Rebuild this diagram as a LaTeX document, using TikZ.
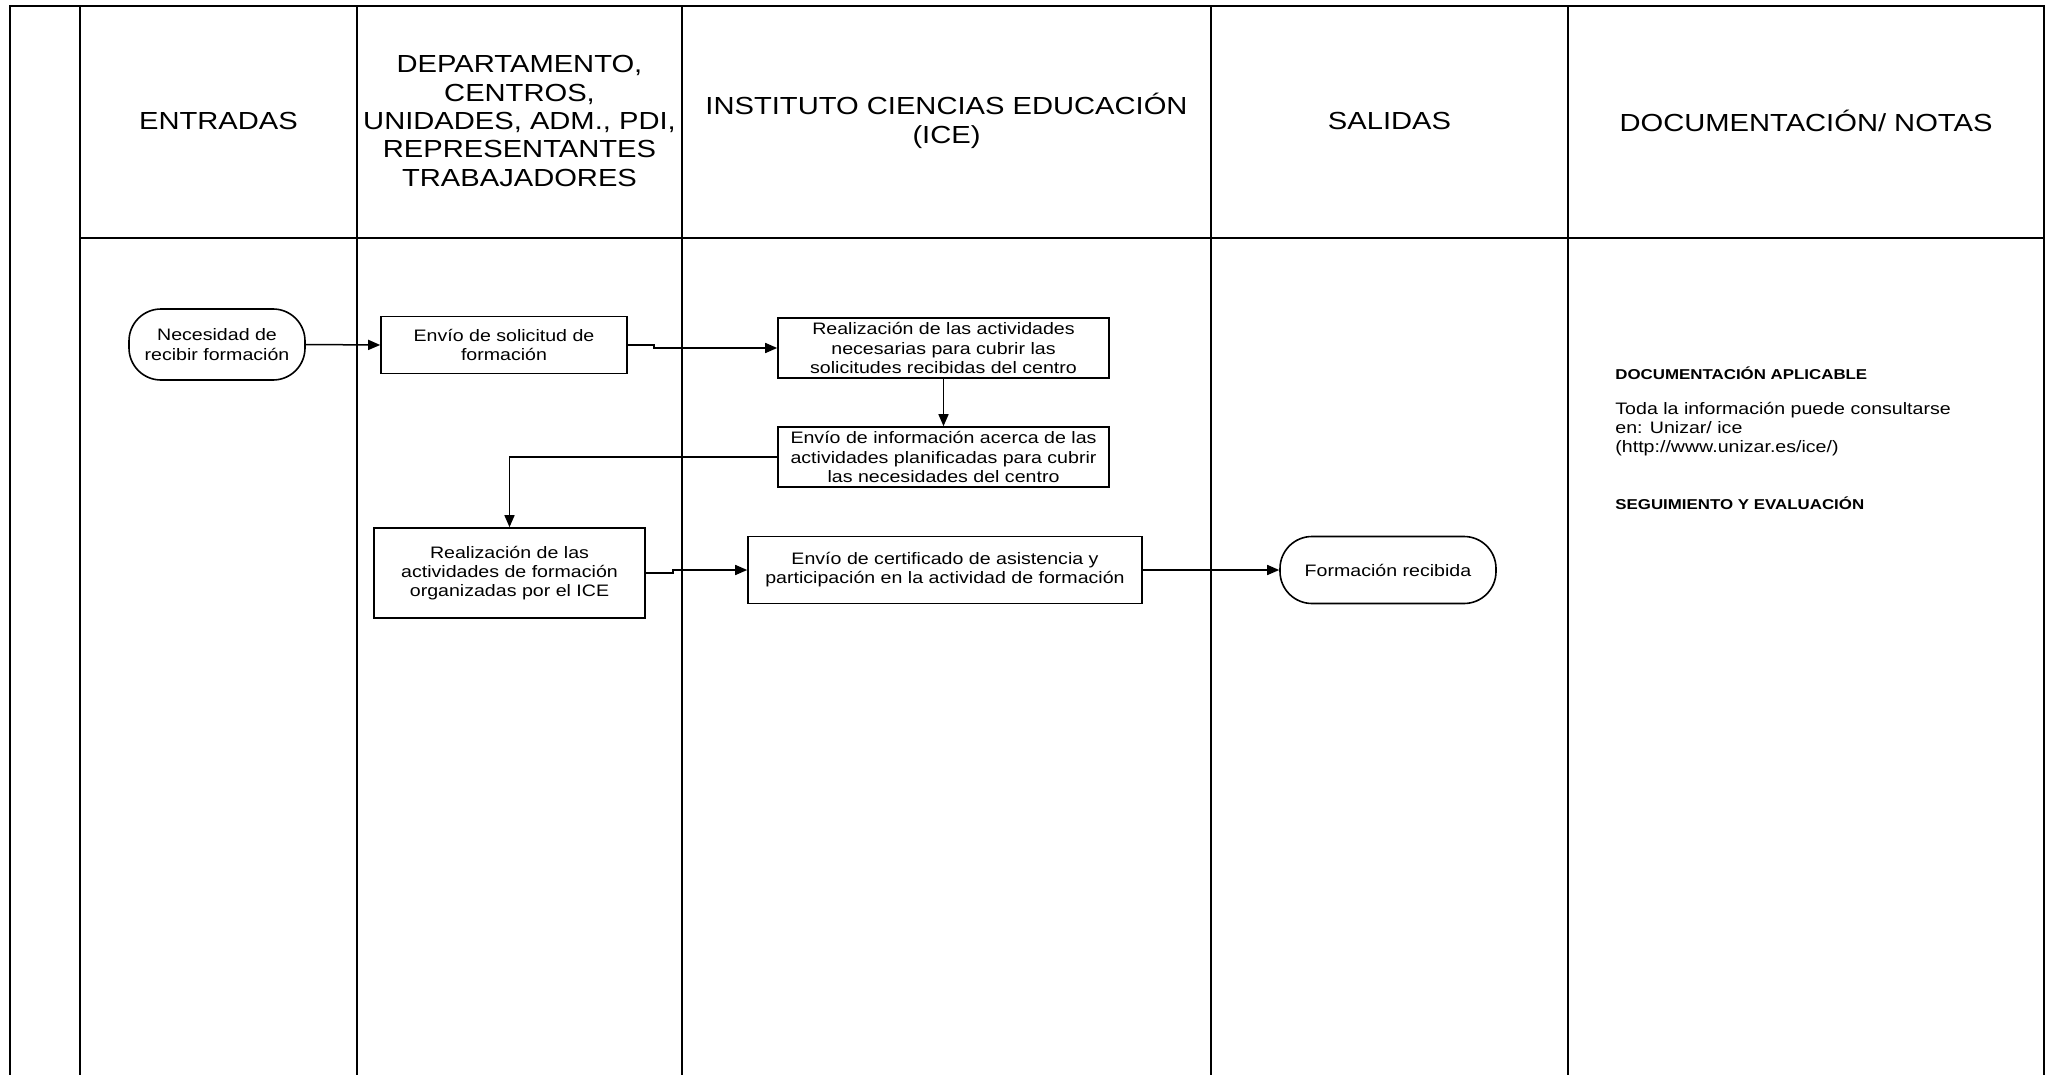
\documentclass[tikz,border=0pt]{standalone}
\usepackage{fontspec}
\setmainfont{Liberation Sans}[FakeStretch=1.18]
\usetikzlibrary{arrows.meta}
\newcommand{\hdrfont}{\fontsize{12.35}{14.2}\selectfont}
\newcommand{\boxfont}{\fontsize{8.3}{9.6}\selectfont}
\newcommand{\notefont}{\fontsize{8.3}{9.35}\selectfont}
\newcommand{\notebold}{\fontsize{7.15}{8.6}\selectfont\bfseries}
\begin{document}
\begin{tikzpicture}[x=0.5pt,y=-0.5pt,
  gridthin/.style={line width=0.7pt},
  gridthick/.style={line width=1.1pt},
  box/.style={draw, line width=0.8pt, align=center, inner sep=0pt, font=\boxfont},
  term/.style={box, rounded corners=16pt},
  hdr/.style={align=center, inner sep=0pt, font=\hdrfont},
  arr/.style={-{Triangle[length=6pt,width=5pt]}, line width=0.75pt},
  note/.style={align=left, inner sep=0pt, anchor=west, font=\notefont},
  notehead/.style={align=left, inner sep=0pt, anchor=west, font=\notebold}]
\useasboundingbox (0,0) rectangle (2049,1075);
% table frame
\draw[gridthick] (10,1075) -- (10,6) -- (2044,6) -- (2044,1075);
\draw[gridthin] (80,238) -- (2044,238);
\draw[gridthin] (80,6) -- (80,1075);
\draw[gridthin] (357,6) -- (357,1075);
\draw[gridthick] (682,6) -- (682,1075);
\draw[gridthin] (1211,6) -- (1211,1075);
\draw[gridthin] (1568,6) -- (1568,1075);
% headers
\node[hdr] (h1) at (218.5,121) {ENTRADAS};
\node[hdr] (h2) at (519.5,121) {DEPARTAMENTO,\\CENTROS,\\UNIDADES, ADM., PDI,\\REPRESENTANTES\\TRABAJADORES};
\node[hdr] (h3) at (946.5,121) {INSTITUTO CIENCIAS EDUCACIÓN\\(ICE)};
\node[hdr] (h4) at (1389.5,121) {SALIDAS};
\node[hdr] (h5) at (1806,121) {DOCUMENTACIÓN/ NOTAS};
% flow nodes
\node[term, minimum width=88pt, minimum height=35.5pt] (nec) at (217,344.5) {Necesidad de\\recibir formación};
\node[box, minimum width=123pt, minimum height=28.5pt] (env) at (504,345) {Envío de solicitud de\\formación};
\node[box, minimum width=165.5pt, minimum height=30pt] (rea) at (943.5,348) {Realización de las actividades\\necesarias para cubrir las\\solicitudes recibidas del centro};
\node[box, minimum width=165.5pt, minimum height=30pt] (inf) at (943.5,457) {Envío de información acerca de las\\actividades planificadas para cubrir\\las necesidades del centro};
\node[box, minimum width=135.5pt, minimum height=45pt] (rf) at (509.5,573) {Realización de las\\actividades de formación\\organizadas por el ICE};
\node[box, minimum width=197pt, minimum height=33.5pt] (cert) at (945,570) {Envío de certificado de asistencia y\\participación en la actividad de formación};
\node[term, minimum width=108pt, minimum height=33.5pt] (frec) at (1388,570) {Formación recibida};
% connectors
\draw[arr] (nec.east) -- (env.west);
\draw[arr] (env.east) -- ++(26,0) |- (rea.west);
\draw[arr] (rea.south) -- (inf.north);
\draw[arr] (inf.west) -| (rf.north);
\draw[arr] (rf.east) -- ++(27,0) |- (cert.west);
\draw[arr] (cert.east) -- (frec.west);
% notes
\node[notehead] (n1) at (1615,373) {DOCUMENTACIÓN APLICABLE};
\node[note] (n2) at (1615,429) {Toda la información puede consultarse\\en: Unizar/ ice\\(http://www.unizar.es/ice/)};
\node[notehead] (n3) at (1615,503) {SEGUIMIENTO Y EVALUACIÓN};
\end{tikzpicture}
\end{document}
